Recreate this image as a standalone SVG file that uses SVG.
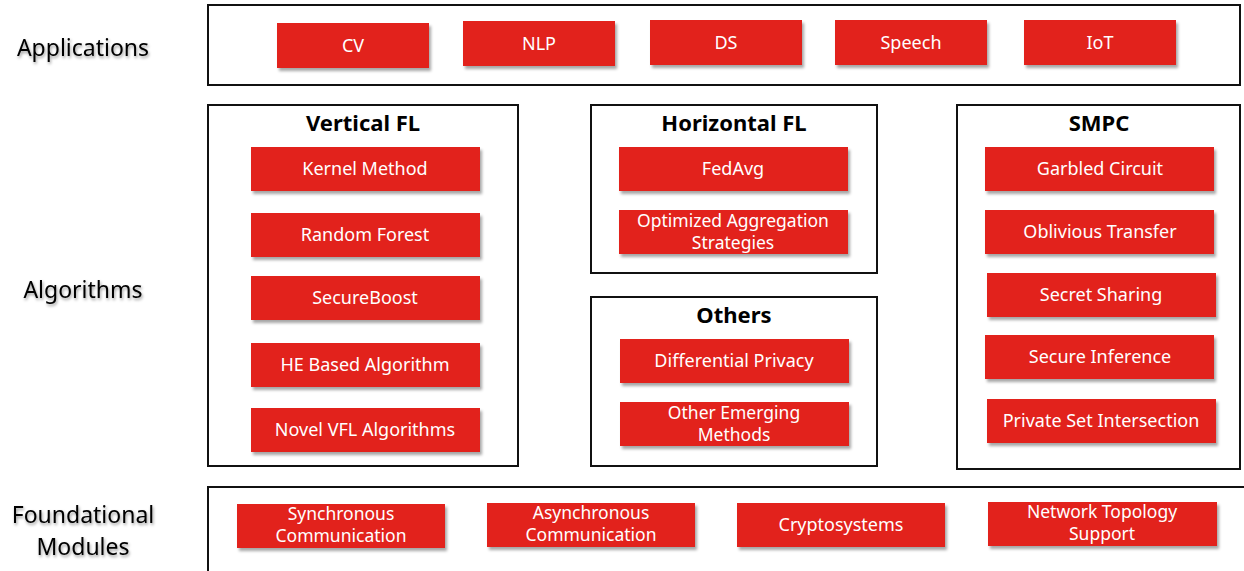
<svg xmlns="http://www.w3.org/2000/svg" width="1244" height="571" viewBox="0 0 1244 571">
<defs>
<filter id="sh" x="-10%" y="-20%" width="125%" height="160%">
<feDropShadow dx="2" dy="3" stdDeviation="1.5" flood-color="#000" flood-opacity="0.35"/>
</filter>
<filter id="tsh" x="-10%" y="-30%" width="130%" height="180%">
<feDropShadow dx="1" dy="2" stdDeviation="1.5" flood-color="#000" flood-opacity="0.4"/>
</filter>
</defs>
<style>
.frame{fill:#fff;stroke:#111;stroke-width:2}
.red{fill:#E2231A;filter:url(#sh)}
.t{font-family:"Noto Sans","Open Sans",sans-serif;font-size:18px;fill:#fff;text-anchor:middle}
.t2{font-family:"Noto Sans","Open Sans",sans-serif;font-size:17.5px;fill:#fff;text-anchor:middle}
.h{font-family:"Noto Sans","Open Sans",sans-serif;font-size:22px;font-weight:bold;fill:#000;text-anchor:middle}
.lab{font-family:"Noto Sans","Open Sans",sans-serif;font-size:23px;fill:#000;text-anchor:middle;filter:url(#tsh)}
</style>
<rect width="1244" height="571" fill="#fff"/>

<g id="labels">
<text class="lab" x="83" y="56">Applications</text>
<text class="lab" x="83" y="298">Algorithms</text>
<text class="lab" x="83" y="523">Foundational<tspan x="83" dy="32">Modules</tspan></text>
</g>

<g id="applications">
<rect class="frame" x="208" y="5" width="1032" height="80"/>
<g id="cv"><rect class="red" x="277" y="23" width="152" height="45"/><text class="t" x="353" y="52">CV</text></g>
<g id="nlp"><rect class="red" x="463" y="21" width="152" height="45"/><text class="t" x="539" y="50">NLP</text></g>
<g id="ds"><rect class="red" x="650" y="20" width="152" height="45"/><text class="t" x="726" y="49">DS</text></g>
<g id="speech"><rect class="red" x="835" y="20" width="152" height="45"/><text class="t" x="911" y="49">Speech</text></g>
<g id="iot"><rect class="red" x="1024" y="20" width="152" height="45"/><text class="t" x="1100" y="49">IoT</text></g>
</g>

<g id="vertical-fl">
<rect class="frame" x="208" y="105" width="310" height="361"/>
<text class="h" x="363" y="131">Vertical FL</text>
<g id="kernel"><rect class="red" x="251" y="147" width="229" height="44"/><text class="t" x="365" y="175">Kernel Method</text></g>
<g id="rf"><rect class="red" x="251" y="213" width="229" height="44"/><text class="t" x="365" y="241">Random Forest</text></g>
<g id="sb"><rect class="red" x="251" y="276" width="229" height="44"/><text class="t" x="365" y="304">SecureBoost</text></g>
<g id="he"><rect class="red" x="251" y="343" width="229" height="44"/><text class="t" x="365" y="371">HE Based Algorithm</text></g>
<g id="novel"><rect class="red" x="251" y="408" width="229" height="44"/><text class="t" x="365" y="436">Novel VFL Algorithms</text></g>
</g>

<g id="horizontal-fl">
<rect class="frame" x="591" y="105" width="286" height="168"/>
<text class="h" x="734" y="131">Horizontal FL</text>
<g id="fedavg"><rect class="red" x="619" y="147" width="229" height="44"/><text class="t" x="733" y="175">FedAvg</text></g>
<g id="opt"><rect class="red" x="619" y="210" width="229" height="44"/><text class="t2" x="733" y="227">Optimized Aggregation<tspan x="733" dy="22">Strategies</tspan></text></g>
</g>

<g id="others">
<rect class="frame" x="591" y="297" width="286" height="169"/>
<text class="h" x="734" y="323">Others</text>
<g id="dp"><rect class="red" x="620" y="339" width="229" height="44"/><text class="t" x="734" y="367">Differential Privacy</text></g>
<g id="oem"><rect class="red" x="620" y="402" width="229" height="44"/><text class="t2" x="734" y="419">Other Emerging<tspan x="734" dy="22">Methods</tspan></text></g>
</g>

<g id="smpc">
<rect class="frame" x="957" y="105" width="283" height="364"/>
<text class="h" x="1099" y="131">SMPC</text>
<g id="gc"><rect class="red" x="985" y="147" width="229" height="44"/><text class="t" x="1100" y="175">Garbled Circuit</text></g>
<g id="ot"><rect class="red" x="985" y="210" width="229" height="44"/><text class="t" x="1100" y="238">Oblivious Transfer</text></g>
<g id="ss"><rect class="red" x="987" y="273" width="229" height="44"/><text class="t" x="1101" y="301">Secret Sharing</text></g>
<g id="si"><rect class="red" x="985" y="335" width="229" height="44"/><text class="t" x="1100" y="363">Secure Inference</text></g>
<g id="psi"><rect class="red" x="987" y="399" width="229" height="44"/><text class="t" x="1101" y="427">Private Set Intersection</text></g>
</g>

<g id="foundational">
<rect class="frame" x="208" y="487" width="1040" height="90"/>
<g id="sync"><rect class="red" x="237" y="504" width="208" height="44"/><text class="t2" x="341" y="520">Synchronous<tspan x="341" dy="22">Communication</tspan></text></g>
<g id="async"><rect class="red" x="487" y="503" width="208" height="44"/><text class="t2" x="591" y="519">Asynchronous<tspan x="591" dy="22">Communication</tspan></text></g>
<g id="crypto"><rect class="red" x="737" y="503" width="208" height="44"/><text class="t" x="841" y="531">Cryptosystems</text></g>
<g id="net"><rect class="red" x="988" y="502" width="229" height="44"/><text class="t2" x="1102" y="518">Network Topology<tspan x="1102" dy="22">Support</tspan></text></g>
</g>

<g id="connectors"></g>
</svg>
